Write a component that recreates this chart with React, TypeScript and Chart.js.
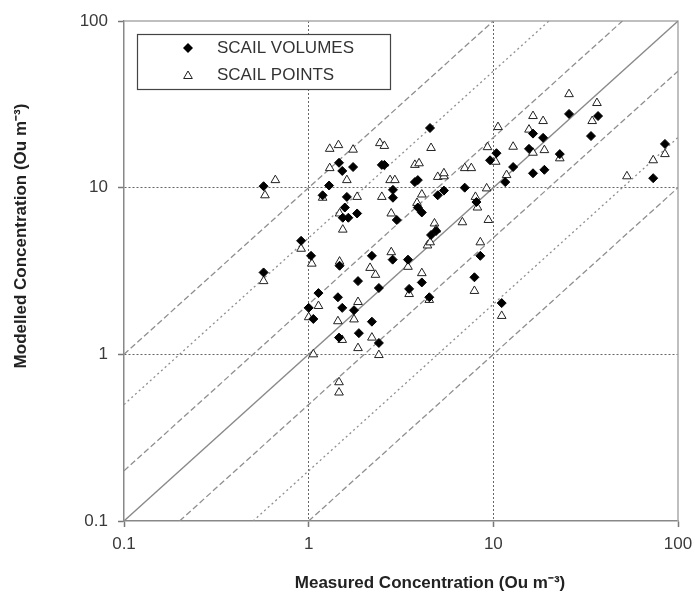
import React, { useEffect, useRef } from "react";
import { Chart, registerables } from "chart.js";

Chart.register(...registerables);

const FONT = '"Liberation Sans", Arial, Helvetica, sans-serif';

// Axis ticks (log scale, both axes)
const TICKS = [0.1, 1, 10, 100];
const TICK_LABELS = ["0.1", "1", "10", "100"];

// SCAIL VOLUMES (filled diamonds)
const VOL_X = [0.57, 0.57, 0.91, 1.03, 1.0, 1.06, 1.13, 1.19, 1.29, 1.46, 1.52, 1.74, 1.61, 1.57, 1.53, 1.64, 1.83, 1.47, 1.44, 1.52, 1.76, 1.85, 2.2, 2.2, 1.87, 1.46, 2.4, 2.4, 2.49, 2.57, 2.86, 2.86, 3.0, 2.85, 3.45, 3.76, 3.9, 4.54, 3.9, 4.1, 5.0, 5.4, 4.6, 4.9, 4.1, 3.5, 4.5, 7.0, 8.1, 8.5, 7.9, 9.6, 10.4, 11.6, 12.8, 11.1, 15.6, 16.4, 18.6, 16.4, 18.9, 22.9, 25.7, 36.9, 33.8, 73.4, 85];
const VOL_Y = [10.2, 3.1, 4.8, 3.9, 1.9, 1.63, 2.33, 9.0, 10.3, 14.1, 12.6, 13.3, 8.8, 7.6, 6.6, 6.6, 7.0, 3.4, 2.2, 1.9, 1.84, 2.75, 3.9, 1.57, 1.34, 1.26, 1.17, 2.5, 13.7, 13.7, 9.7, 8.7, 6.4, 3.7, 3.7, 10.8, 11.1, 22.8, 7.6, 7.1, 9.0, 9.6, 5.2, 5.5, 2.7, 2.47, 2.2, 10.0, 8.2, 3.9, 2.9, 14.6, 16.1, 10.8, 13.3, 2.03, 17.1, 21.1, 19.9, 12.2, 12.8, 15.9, 27.7, 26.9, 20.4, 11.4, 18.3];

// SCAIL POINTS (open triangles)
const PTS_X = [0.58, 0.66, 0.57, 0.91, 1.04, 1.0, 1.13, 1.06, 1.19, 1.3, 1.45, 1.74, 1.3, 1.61, 1.83, 1.47, 1.53, 1.47, 1.44, 1.76, 1.85, 1.52, 2.2, 1.85, 2.4, 1.46, 1.46, 2.15, 2.3, 2.43, 2.57, 2.76, 2.93, 2.49, 2.8, 2.8, 3.45, 3.76, 3.96, 4.6, 5.0, 5.4, 5.4, 7.0, 7.6, 4.1, 3.86, 4.8, 4.9, 4.4, 4.55, 4.1, 3.5, 4.5, 8.0, 8.2, 9.2, 9.4, 6.8, 8.5, 7.9, 10.6, 9.3, 10.3, 12.8, 11.8, 11.1, 16.4, 18.6, 15.6, 16.4, 18.9, 22.9, 25.7, 36.4, 34.3, 52.9, 73.4, 85];
const PTS_Y = [9.0, 11.1, 2.75, 4.3, 3.5, 1.67, 1.95, 1.0, 8.7, 17.1, 18.0, 16.9, 13.1, 11.1, 8.8, 7.0, 5.6, 3.6, 1.58, 1.62, 2.06, 1.22, 1.26, 1.09, 0.99, 0.68, 0.59, 3.3, 3.0, 18.5, 17.8, 11.1, 11.1, 8.8, 7.0, 4.1, 3.35, 13.7, 14.0, 17.3, 11.6, 11.7, 12.2, 13.1, 13.1, 9.1, 8.1, 6.1, 5.6, 4.5, 4.7, 3.07, 2.3, 2.12, 8.8, 7.6, 9.9, 6.4, 6.2, 4.7, 2.4, 23.1, 17.5, 14.3, 17.6, 11.9, 1.7, 26.9, 25.1, 22.3, 16.2, 16.8, 15.0, 36.4, 32.2, 25.1, 11.7, 14.6, 15.9];

// Reference ratio lines y = f * x
const RATIO_FACTORS = [1, 2, 0.5, 5, 0.2, 10, 0.1];
const RATIO_STYLES = ["solid", "dash", "dash", "dot", "dot", "dash", "dash"];

const AX_MIN = 0.1;
const AX_MAX = 100;

function pts(xs: number[], ys: number[]) {
  return xs.map((x, i) => ({ x, y: ys[i] }));
}

function ratioLine(f: number) {
  const x0 = Math.max(AX_MIN, AX_MIN / f);
  const x1 = Math.min(AX_MAX, AX_MAX / f);
  return [
    { x: x0, y: x0 * f },
    { x: x1, y: x1 * f },
  ];
}

function drawTriangle(ctx: CanvasRenderingContext2D, x: number, y: number, r: number) {
  ctx.beginPath();
  let a = 0;
  ctx.moveTo(x + Math.sin(a) * r, y - Math.cos(a) * r);
  a += (2 * Math.PI) / 3;
  ctx.lineTo(x + Math.sin(a) * r, y - Math.cos(a) * r);
  a += (2 * Math.PI) / 3;
  ctx.lineTo(x + Math.sin(a) * r, y - Math.cos(a) * r);
  ctx.closePath();
}

const decorPlugin = {
  id: "decor",
  beforeDatasetsDraw(chart: any) {
    const { ctx, chartArea: a } = chart;
    ctx.save();
    ctx.strokeStyle = "#aaa";
    ctx.lineWidth = 1.5;
    ctx.beginPath();
    ctx.moveTo(a.left, a.top);
    ctx.lineTo(a.right, a.top);
    ctx.lineTo(a.right, a.bottom);
    ctx.stroke();
    ctx.restore();
  },
  afterDraw(chart: any) {
    const { ctx } = chart;
    ctx.save();
    // Legend box
    ctx.fillStyle = "#fff";
    ctx.fillRect(137, 34, 253, 55);
    ctx.strokeStyle = "#444";
    ctx.lineWidth = 1.2;
    ctx.strokeRect(137.5, 34.5, 253, 55);
    // diamond marker
    ctx.fillStyle = "#000";
    ctx.beginPath();
    ctx.moveTo(188, 43);
    ctx.lineTo(193, 48);
    ctx.lineTo(188, 53);
    ctx.lineTo(183, 48);
    ctx.closePath();
    ctx.fill();
    // triangle marker
    drawTriangle(ctx, 188, 76, 5);
    ctx.fillStyle = "#fff";
    ctx.fill();
    ctx.strokeStyle = "#222";
    ctx.lineWidth = 1;
    ctx.stroke();
    ctx.fillStyle = "#333";
    ctx.font = `17px ${FONT}`;
    ctx.textAlign = "left";
    ctx.textBaseline = "middle";
    ctx.fillText("SCAIL VOLUMES", 217, 48);
    ctx.fillText("SCAIL POINTS", 217, 75);

    // Axis titles
    ctx.fillStyle = "#222";
    ctx.font = `bold 17px ${FONT}`;
    ctx.textAlign = "center";
    ctx.textBaseline = "middle";
    ctx.fillText("Measured Concentration (Ou m\u207B\u00B3)", 430, 583);
    ctx.translate(21, 236);
    ctx.rotate(-Math.PI / 2);
    ctx.fillText("Modelled Concentration (Ou m\u207B\u00B3)", 0, 0);
    ctx.restore();
  },
};

function axis(position: "bottom" | "left") {
  return {
    type: "logarithmic" as const,
    position,
    min: AX_MIN,
    max: AX_MAX,
    afterBuildTicks: (s: any) => {
      s.ticks = TICKS.map((v) => ({ value: v }));
    },
    afterFit: (s: any) => {
      if (position === "bottom") {
        s.height = 73;
        s.paddingLeft = 0;
        s.paddingRight = 0;
      } else {
        s.width = 124;
        s.paddingTop = 0;
        s.paddingBottom = 0;
      }
    },
    ticks: {
      autoSkip: false,
      maxRotation: 0,
      padding: position === "bottom" ? 7 : 10,
      color: "#3a3a3a",
      font: { family: FONT, size: 17 },
      callback: (v: any) => {
        const i = TICKS.indexOf(Number(v));
        return i >= 0 ? TICK_LABELS[i] : "";
      },
    },
    grid: {
      color: (c: any) =>
        c.tick && (c.tick.value === 1 || c.tick.value === 10) ? "#666" : "rgba(0,0,0,0)",
      lineWidth: 1,
      drawTicks: true,
      tickLength: 6,
      tickColor: "#777",
      tickWidth: 1.5,
    },
    border: { display: true, color: "#888", width: 1.5, dash: [2, 2] },
    title: { display: false },
  };
}

export default function App() {
  const ref = useRef<HTMLCanvasElement>(null);

  useEffect(() => {
    document.body.style.margin = "0";
    const lineSets = RATIO_FACTORS.map((f, i) => {
      const st = RATIO_STYLES[i];
      return {
        type: "scatter" as const,
        label: `ratio ${f}`,
        data: ratioLine(f),
        showLine: true,
        borderColor: st === "solid" ? "#8a8a8a" : "#8f8f8f",
        borderWidth: 1.3,
        borderDash: st === "solid" ? [] : st === "dash" ? [6, 3] : [2, 3],
        pointRadius: 0,
        fill: false,
      };
    });
    const chart = new Chart(ref.current!, {
      type: "scatter",
      data: {
        datasets: [
          {
            label: "SCAIL VOLUMES",
            data: pts(VOL_X, VOL_Y),
            pointStyle: "rectRot",
            pointRadius: 4.5,
            backgroundColor: "#000",
            borderColor: "#000",
            borderWidth: 1,
          },
          {
            label: "SCAIL POINTS",
            data: pts(PTS_X, PTS_Y),
            pointStyle: "triangle",
            pointRadius: 5,
            backgroundColor: "#fff",
            borderColor: "#222",
            borderWidth: 1,
          },
          ...lineSets,
        ] as any,
      },
      options: {
        responsive: false,
        animation: false,
        layout: { padding: { left: 0, right: 17, top: 21, bottom: 0 } },
        plugins: {
          legend: { display: false },
          tooltip: { enabled: false },
        },
        scales: {
          x: axis("bottom") as any,
          y: axis("left") as any,
        },
      },
      plugins: [decorPlugin],
    });
    return () => chart.destroy();
  }, []);

  return (
    <div style={{ width: 695, height: 594 }}>
      <canvas ref={ref} width={695} height={594} style={{ display: "block" }} />
    </div>
  );
}
